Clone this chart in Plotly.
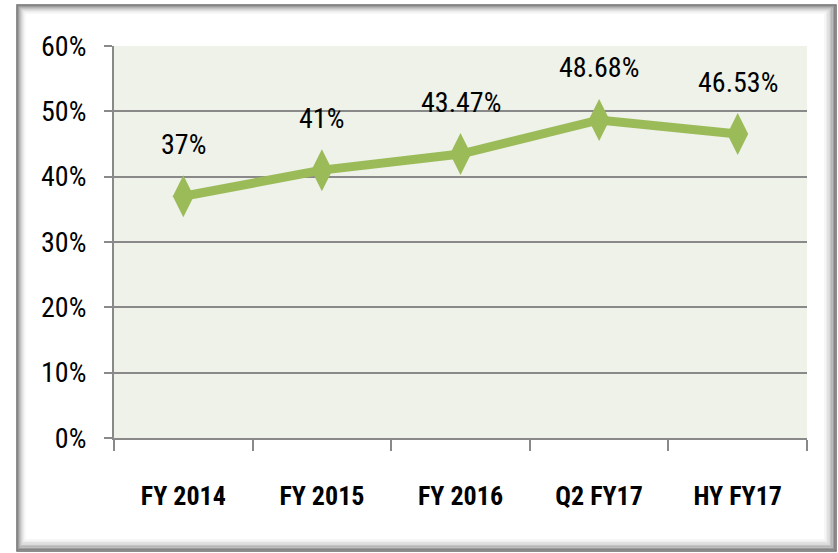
import plotly.graph_objects as go

categories = ["FY 2014", "FY 2015", "FY 2016", "Q2 FY17", "HY FY17"]
values = [37, 41, 43.47, 48.68, 46.53]
labels = ["37%", "41%", "43.47%", "48.68%", "46.53%"]
y_ticks = [0, 10, 20, 30, 40, 50, 60]
y_tick_text = ["0%", "10%", "20%", "30%", "40%", "50%", "60%"]

W, H = 838, 553
L, R, T, B = 114, 807, 46, 438
FONT = "Liberation Sans Narrow, Arial Narrow, Roboto Condensed, sans-serif"

green = "#9BBB59"
grid = "#898989"

fig = go.Figure()
fig.add_trace(go.Scatter(
    x=categories, y=values, mode="lines+markers",
    line=dict(color=green, width=9),
    marker=dict(symbol="diamond-tall", size=30, color=green),
    hoverinfo="skip", showlegend=False,
))

for c, v, t in zip(categories, values, labels):
    fig.add_annotation(x=c, y=v, text=t, showarrow=False, yshift=52,
                       font=dict(family=FONT, size=28, color="#000000"))

def px(x):
    return (x - L) / (R - L)

def py(y):
    return (B - y) / (B - T)

# frame with shadow
shades = ["#6a6a6a", "#848484", "#9c9c9c", "#b2b2b2", "#c4c4c4", "#d4d4d4", "#e2e2e2", "#ededed", "#f6f6f6"]
shapes = []
for i, col in enumerate(shades):
    x0 = 17 + i
    y0 = 5 + i
    x1 = 836 - i * 1.4
    y1 = 551 - i * 1.4
    shapes.append(dict(type="rect", xref="paper", yref="paper",
                       x0=px(x0), x1=px(x1), y0=py(y0), y1=py(y1),
                       line=dict(color=col, width=1.5), fillcolor="rgba(0,0,0,0)",
                       layer="below"))
fig.update_layout(shapes=shapes)

fig.update_layout(
    width=W, height=H,
    margin=dict(l=L, r=W - R, t=T, b=H - B),
    paper_bgcolor="#FFFFFF",
    plot_bgcolor="#EEF2E9",
    xaxis=dict(
        type="category", tickson="boundaries", ticks="outside", ticklen=11,
        tickwidth=2, tickcolor=grid, showgrid=False, showline=True,
        linecolor=grid, linewidth=2, range=[-0.5, 4.5],
        tickfont=dict(family=FONT, size=26, color="#000000", weight="bold"),
        ticklabelstandoff=34,
    ),
    yaxis=dict(
        range=[0, 60], tickvals=y_ticks, ticktext=y_tick_text,
        ticks="outside", ticklen=8, tickwidth=2, tickcolor=grid,
        showgrid=True, gridcolor=grid, gridwidth=2,
        showline=True, linecolor=grid, linewidth=2, zeroline=False,
        tickfont=dict(family=FONT, size=28, color="#000000"),
        ticklabelstandoff=12,
    ),
)

fig.write_html("out.html", config={"displayModeBar": False},
               post_script="document.body.style.margin='0';document.body.style.overflow='hidden';")
